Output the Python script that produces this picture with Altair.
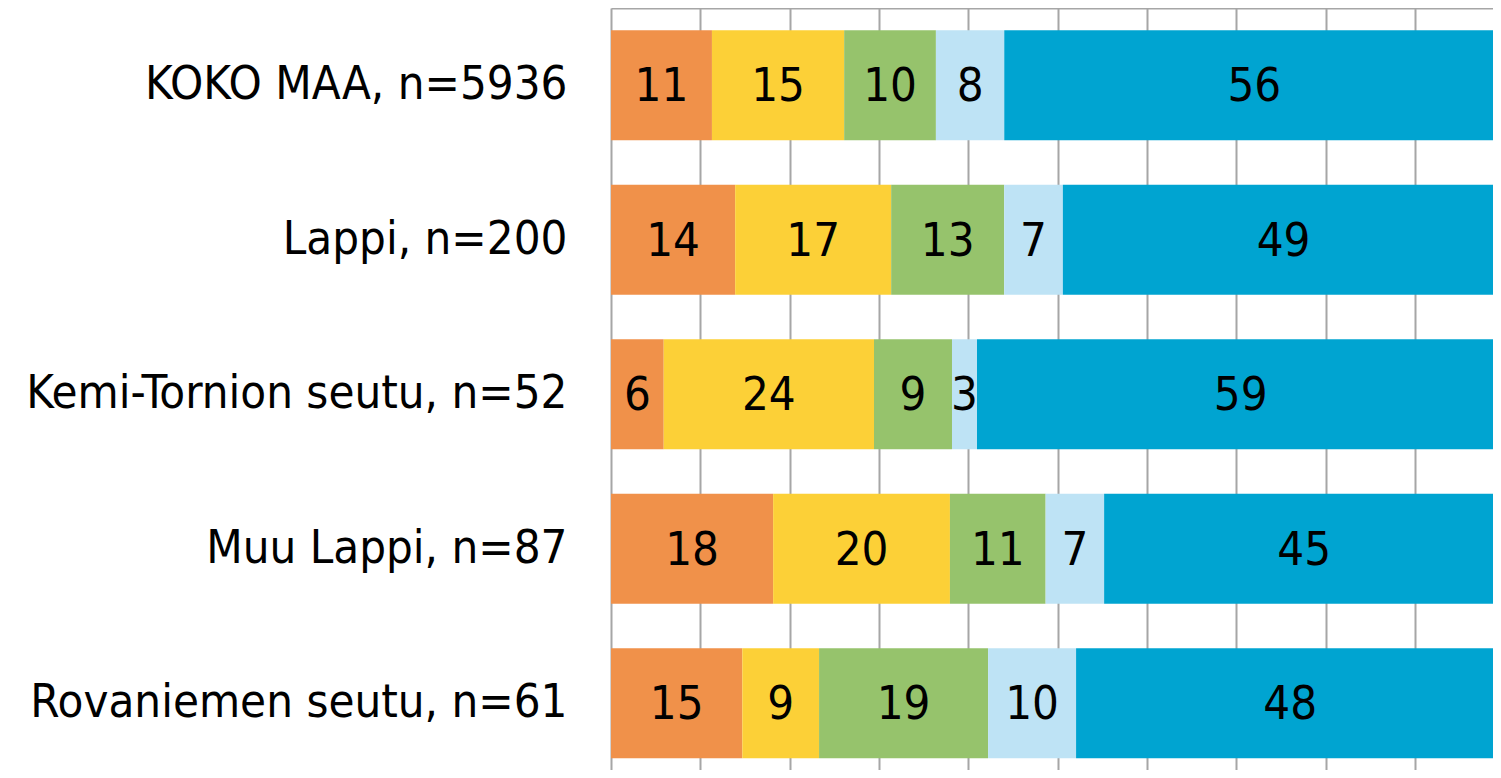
import altair as alt
import pandas as pd

categories = ["KOKO MAA, n=5936", "Lappi, n=200", "Kemi-Tornion seutu, n=52",
              "Muu Lappi, n=87", "Rovaniemen seutu, n=61"]
series = ["s1", "s2", "s3", "s4", "s5"]
colors = ["#F0914A", "#FCD037", "#96C36C", "#BEE3F5", "#00A4D1"]

s1 = [11.3, 13.9, 5.9, 18.15, 14.7]
s2 = [14.8, 17.46, 23.54, 19.79, 8.59]
s3 = [10.27, 12.65, 8.73, 10.71, 18.92]
s4 = [7.65, 6.57, 2.8, 6.55, 9.85]
s5 = [55.98, 49.42, 59.03, 44.8, 47.94]
grid_values = [0, 10, 20, 30, 40, 50, 60, 70, 80, 90]

rows = []
for si, (name, vals) in enumerate(zip(series, [s1, s2, s3, s4, s5])):
    for c, v in zip(categories, vals):
        rows.append({"category": c, "series": name, "order": si, "value": v})
df = pd.DataFrame(rows)

FONT = "DejaVu Sans Condensed, Liberation Sans, sans-serif"
XMAX = 98.73

base = alt.Chart(df).transform_stack(
    stack="value", groupby=["category"], sort=[alt.SortField("order")], as_=["x0", "x1"]
).transform_calculate(mid="(datum.x0 + datum.x1) / 2")

yenc = alt.Y("category:N", sort=categories, title=None,
             scale=alt.Scale(paddingInner=0.288, paddingOuter=0.110, align=0.655),
             axis=alt.Axis(domain=False, ticks=False, labelPadding=44, labelFontSize=47,
                           labelFont=FONT, labelColor="black", labelLimit=0))

bars = base.mark_bar(clip=True).encode(
    x=alt.X("x0:Q", title=None, scale=alt.Scale(domain=[0, XMAX], nice=False, zero=True),
            axis=alt.Axis(orient="top", labels=False, ticks=False, values=grid_values,
                          domain=True, domainColor="#a6a6a6", domainWidth=2,
                          grid=True, gridColor="#a6a6a6", gridWidth=2)),
    x2="x1:Q",
    y=yenc,
    color=alt.Color("series:N", scale=alt.Scale(domain=series, range=colors), legend=None),
)

labels = base.mark_text(font=FONT, fontSize=47, color="black", baseline="middle",
                        align="center", dy=2).encode(
    x=alt.X("mid:Q"),
    y=alt.Y("category:N", sort=categories),
    text=alt.Text("value:Q", format=".0f"),
)

chart = alt.layer(bars, labels).properties(
    width=882, height=762,
    autosize=alt.AutoSizeParams(type="none"),
    padding={"left": 603, "top": 0, "right": 0, "bottom": 0},
).configure_view(strokeWidth=0)

chart.save("out.html", embed_options={"renderer": "svg", "actions": False})
